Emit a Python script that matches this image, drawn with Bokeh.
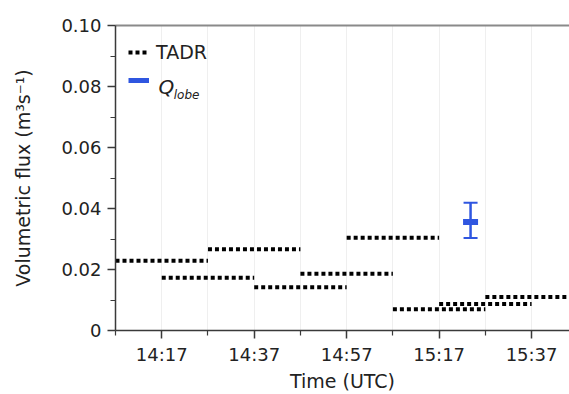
from bokeh.plotting import figure
from bokeh.models import (ColumnDataSource, FixedTicker, Legend, LegendItem, Label,
                          Whisker, TeeHead, LinearAxis, Range1d)
from bokeh.embed import file_html
from bokeh.resources import INLINE

# ---- data ----
tadr_start = ["14:07", "14:17", "14:27", "14:37", "14:47", "14:57", "15:07", "15:17", "15:27"]
tadr_end   = ["14:27", "14:37", "14:47", "14:57", "15:07", "15:17", "15:27", "15:37", "15:47"]
tadr_value = [0.0229, 0.0173, 0.0266, 0.0142, 0.0186, 0.0304, 0.0070, 0.0087, 0.0110]

qlobe_time = ["15:23.8"]
qlobe_value = [0.0356]
qlobe_low = [0.0303]
qlobe_high = [0.0419]

x_tick_labels = ["14:17", "14:37", "14:57", "15:17", "15:37"]
x_minor_labels = ["14:07", "14:27", "14:47", "15:07", "15:27", "15:47"]
x_grid_labels = ["14:17", "14:27", "14:37", "14:47", "14:57", "15:07", "15:17", "15:27", "15:37"]
y_ticks = [0, 0.02, 0.04, 0.06, 0.08, 0.10]
y_minor = [0.01, 0.03, 0.05, 0.07, 0.09]
x_start, x_end = "14:07", "15:45.2"


def tmin(s):
    h, m = s.split(":")
    return int(h) * 60 + float(m)


BLUE = "#2f56e0"
TXT = "#222222"
AX = "#3a3a3a"
FONT = "DejaVu Sans"

p = figure(width=569, height=394, output_backend="svg", toolbar_location=None,
           x_range=Range1d(tmin(x_start), tmin(x_end)), y_range=Range1d(0, 0.10),
           min_border_left=115, min_border_right=0, min_border_top=25, min_border_bottom=62)
p.outline_line_color = None
p.background_fill_color = "white"
p.border_fill_color = "white"

# grid
p.ygrid.grid_line_color = None
p.xgrid.ticker = FixedTicker(ticks=[tmin(t) for t in x_grid_labels])
p.xgrid.grid_line_color = "#efefef"
p.xgrid.grid_line_width = 1

# x axis
xa = p.xaxis[0]
xa.ticker = FixedTicker(ticks=[tmin(t) for t in x_tick_labels],
                        minor_ticks=[tmin(t) for t in x_minor_labels])
xa.major_label_overrides = {tmin(t): t for t in x_tick_labels}
xa.axis_label = "Time (UTC)"
# y axis
ya = p.yaxis[0]
ya.ticker = FixedTicker(ticks=y_ticks, minor_ticks=y_minor)
ya.major_label_overrides = {v: ("0" if v == 0 else "%.2f" % v) for v in y_ticks}
ya.axis_label = "Volumetric flux (m³s⁻¹)"

for ax in (xa, ya):
    ax.axis_line_color = AX
    ax.axis_line_width = 1.5
    ax.major_tick_line_color = AX
    ax.minor_tick_line_color = AX
    ax.major_tick_line_width = 1.5
    ax.minor_tick_line_width = 1.2
    ax.major_tick_in = 0
    ax.major_tick_out = 8
    ax.minor_tick_in = 0
    ax.minor_tick_out = 5
    ax.major_label_text_font = FONT
    ax.major_label_text_font_size = "18px"
    ax.major_label_text_color = TXT
    ax.axis_label_text_font = FONT
    ax.axis_label_text_font_size = "19px"
    ax.axis_label_text_font_style = "normal"
    ax.axis_label_text_color = TXT
xa.major_label_standoff = 5
xa.axis_label_standoff = 2
ya.major_label_standoff = 6
ya.axis_label_standoff = 24

# top border line
top = LinearAxis(ticker=FixedTicker(ticks=[]), axis_line_color="#8a8a8a", axis_line_width=2,
                 major_tick_line_color=None, minor_tick_line_color=None,
                 major_label_text_font_size="0px")
p.add_layout(top, "above")

# TADR segments
src = ColumnDataSource(dict(x0=[tmin(t) for t in tadr_start], x1=[tmin(t) for t in tadr_end],
                            y=tadr_value))
tadr_r = p.segment(x0="x0", y0="y", x1="x1", y1="y", source=src, line_color="black",
                   line_width=4, line_dash="4 3")

# Q lobe
qsrc = ColumnDataSource(dict(x=[tmin(t) for t in qlobe_time], y=qlobe_value,
                             lo=qlobe_low, hi=qlobe_high))
p.segment(x0="x", y0="lo", x1="x", y1="hi", source=qsrc, line_color=BLUE, line_width=2)
w = Whisker(source=qsrc, base="x", upper="hi", lower="lo", dimension="height",
            line_color=BLUE, line_width=2,
            upper_head=TeeHead(size=14, line_color=BLUE, line_width=2),
            lower_head=TeeHead(size=14, line_color=BLUE, line_width=2))
p.add_layout(w)
p.rect(x="x", y="y", width=15, height=6, width_units="screen", height_units="screen",
       source=qsrc, fill_color=BLUE, line_color=None)

# legend sample for Q lobe (single point line: draws nothing in the plot)
dummy = p.line(x="x", y="y", source=qsrc, line_color=BLUE, line_width=5)

legend = Legend(items=[LegendItem(label="TADR", renderers=[tadr_r]),
                       LegendItem(label=" ", renderers=[dummy])],
                location="top_left", margin=13, padding=0, spacing=0,
                glyph_width=21, glyph_height=28, label_height=28, label_standoff=7,
                label_text_font=FONT, label_text_font_size="19px", label_text_color=TXT,
                border_line_color=None, background_fill_alpha=0)
p.add_layout(legend)

p.add_layout(Label(x=tmin("14:16.3"), y=0.0798, text="Q", text_font=FONT,
                   text_baseline="alphabetic",
                   text_font_style="italic", text_font_size="20px", text_color=TXT))
p.add_layout(Label(x=tmin("14:19.6"), y=0.0772, text="lobe", text_font=FONT,
                   text_baseline="alphabetic",
                   text_font_style="italic", text_font_size="12px", text_color=TXT))

open("out.html", "w").write(file_html(p, INLINE))
